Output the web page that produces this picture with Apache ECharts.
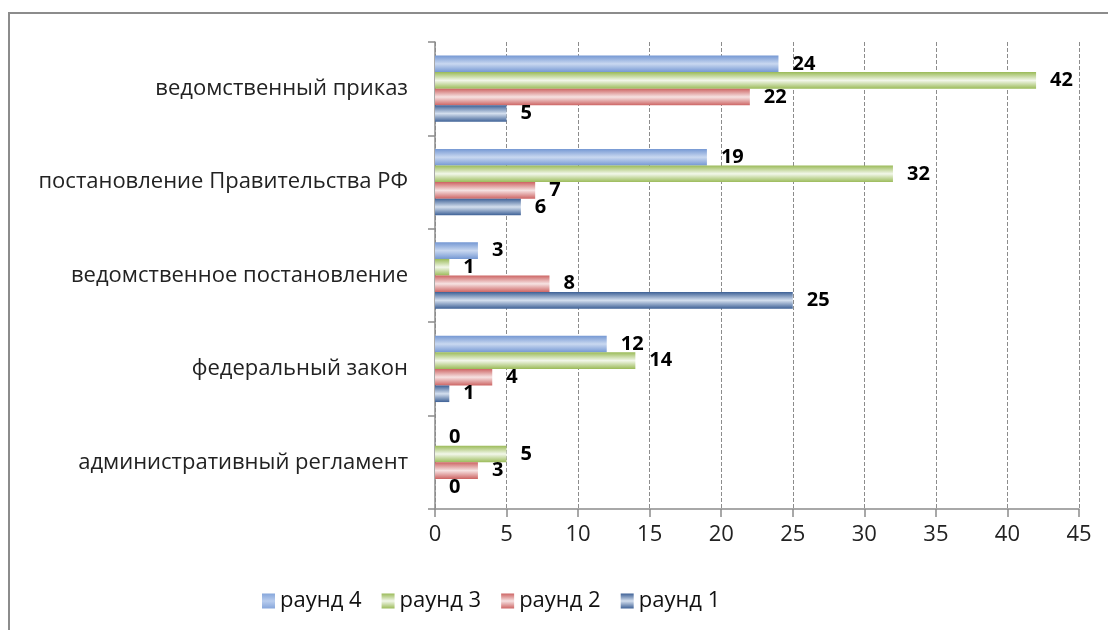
<!DOCTYPE html>
<html><head><meta charset="utf-8">
<script src="https://cdn.jsdelivr.net/npm/echarts@6/dist/echarts.min.js"></script>
<style>html,body{margin:0;padding:0;background:#fff}#c{width:1108px;height:630px}</style>
</head><body><div id="c"></div>
<script>
const categories = ['ведомственный приказ','постановление Правительства РФ','ведомственное постановление','федеральный закон','административный регламент'];
const seriesNames = ['раунд 4','раунд 3','раунд 2','раунд 1'];
const round4 = [24, 19, 3, 12, 0];
const round3 = [42, 32, 1, 14, 5];
const round2 = [22, 7, 8, 4, 3];
const round1 = [5, 6, 25, 1, 0];
const xTicks = {min: 0, max: 45, interval: 5};

function grad(edge, mid){
  return new echarts.graphic.LinearGradient(0,0,0,1,[
    {offset:0, color:edge},{offset:0.5, color:mid},{offset:1, color:edge}]);
}
const colors = [grad('#7598d3','#c9d8f0'), grad('#9bbb59','#f2f7ea'), grad('#cd6564','#f6e2e2'), grad('#3e6196','#d4dfee')];
const legendColors = [grad('#86a6db','#b9cdee'), grad('#9bbb59','#f2f7ea'), grad('#cd6564','#f6e2e2'), grad('#3e6196','#d4dfee')];
const data = [round4, round3, round2, round1];
const FONT = 'Open Sans';

const chart = echarts.init(document.getElementById('c'));
chart.setOption({
  animation:false,
  textStyle:{fontFamily:FONT},
  grid:{left:435, right:29, top:42, bottom:121},
  legend:{
    top:585, left:257, itemWidth:13, itemHeight:15, itemGap:20, icon:'rect',
    textStyle:{fontSize:22, color:'#111', fontFamily:FONT},
    data: seriesNames.map((n,i)=>({name:n, icon:'rect', itemStyle:{color:legendColors[i]}}))
  },
  xAxis:{type:'value', min:xTicks.min, max:xTicks.max, interval:xTicks.interval,
    axisLine:{show:true, lineStyle:{color:'#8c8c8c', width:1.5}},
    axisTick:{show:true, length:8, lineStyle:{color:'#8c8c8c', width:1.5}},
    axisLabel:{fontSize:22, color:'#222', margin:15},
    splitLine:{show:true, lineStyle:{color:'#8c8c8c', type:[4,2], width:1}}
  },
  yAxis:{type:'category', data:categories, inverse:true,
    axisLine:{show:true, lineStyle:{color:'#8c8c8c', width:1.5}},
    axisTick:{show:true, length:7, lineStyle:{color:'#8c8c8c', width:1.5}},
    axisLabel:{fontSize:22, color:'#222', margin:27}
  },
  series: seriesNames.map((n,i)=>({
    name:n, type:'bar', data:data[i], barGap:'0%', barCategoryGap:'29%',
    itemStyle:{color:colors[i]},
    label:{show:true, position:'right', distance:14, fontSize:20, fontWeight:'bold', color:'#000', fontFamily:FONT}
  })),
  graphic:[{type:'rect', shape:{x:9, y:13, width:1200, height:700}, style:{fill:'none', stroke:'#8c8c8c', lineWidth:2}, silent:true}]
});
</script></body></html>
